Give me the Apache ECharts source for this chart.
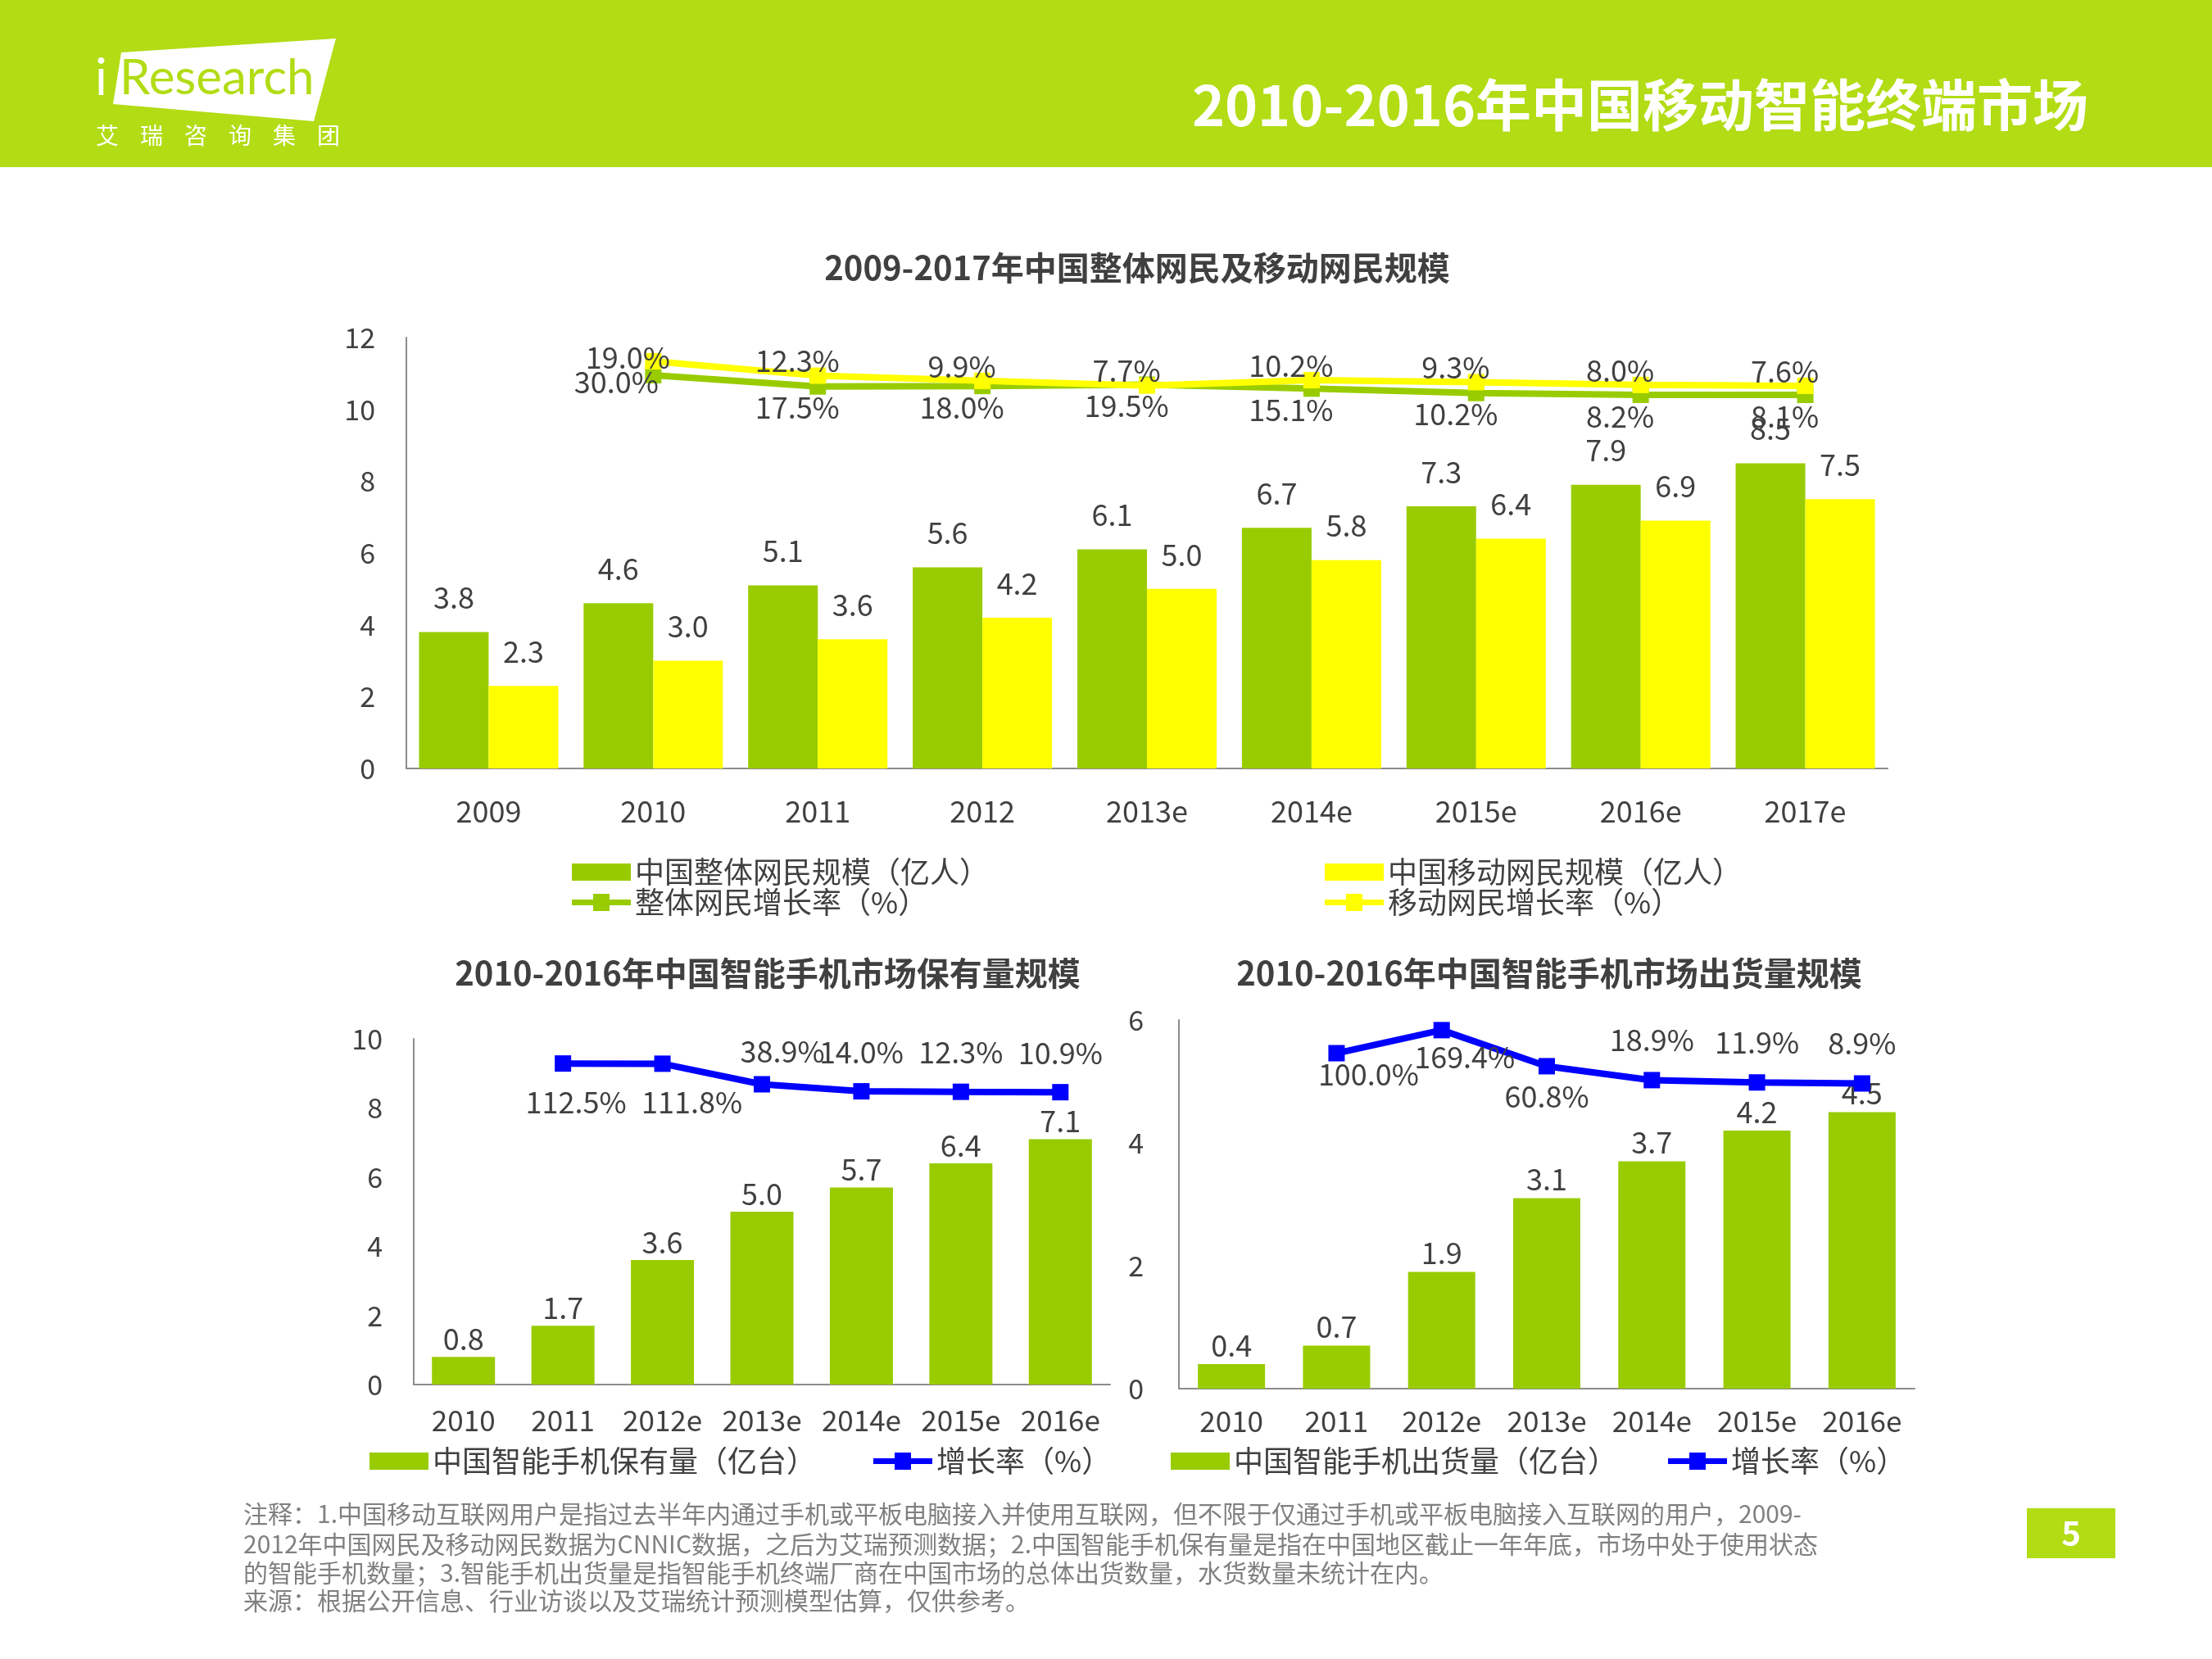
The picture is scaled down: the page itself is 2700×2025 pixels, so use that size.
<!DOCTYPE html>
<html>
<head>
<meta charset="utf-8">
<script src="https://cdn.jsdelivr.net/npm/echarts@6/dist/echarts.min.js"></script>
<style>
html,body{margin:0;padding:0;background:#fff;}
#chart{width:2700px;height:2025px;}
</style>
</head>
<body>
<div id="chart"></div>
<script>
// ---------- data ----------
const years = ['2009','2010','2011','2012','2013e','2014e','2015e','2016e','2017e'];
const totalNetizens = [3.8,4.6,5.1,5.6,6.1,6.7,7.3,7.9,8.5];
const mobileNetizens = [2.3,3.0,3.6,4.2,5.0,5.8,6.4,6.9,7.5];
const totalGrowth = [null,30.0,17.5,18.0,19.5,15.1,10.2,8.2,8.1];
const mobileGrowth = [null,19.0,12.3,9.9,7.7,10.2,9.3,8.0,7.6];
const topTicks = [0,2,4,6,8,10,12];

const phoneYears = ['2010','2011','2012e','2013e','2014e','2015e','2016e'];
const phoneStock = [0.8,1.7,3.6,5.0,5.7,6.4,7.1];
const stockGrowth = [null,112.5,111.8,38.9,14.0,12.3,10.9];
const stockTicks = [0,2,4,6,8,10];
const phoneShipments = [0.4,0.7,1.9,3.1,3.7,4.2,4.5];
const shipmentGrowth = [null,100.0,169.4,60.8,18.9,11.9,8.9];
const shipTicks = [0,2,4,6];

const notes = [
  '注释：1.中国移动互联网用户是指过去半年内通过手机或平板电脑接入并使用互联网，但不限于仅通过手机或平板电脑接入互联网的用户，2009-',
  '2012年中国网民及移动网民数据为CNNIC数据，之后为艾瑞预测数据；2.中国智能手机保有量是指在中国地区截止一年年底，市场中处于使用状态',
  '的智能手机数量；3.智能手机出货量是指智能手机终端厂商在中国市场的总体出货数量，水货数量未统计在内。',
  '来源：根据公开信息、行业访谈以及艾瑞统计预测模型估算，仅供参考。'
];

// ---------- style ----------
const FONT = "'Noto Sans CJK SC','Noto Sans',sans-serif";
const GREEN = '#99cc00', YELLOW = '#ffff00', BLUE = '#0000ff', HEAD = '#b2dc14';
const TXT = '#404040', AXIS = '#8c8c8c';
const LINE_ICON = 'path://M0,7H72V14H0Z M26,0H46V21H26Z';

const fmt1 = v => (v == null ? '' : Number(v).toFixed(1));
function lineData(values, labelFn) {
  return values.map((v, i) => v == null ? null : ({ value: v, label: labelFn(i) }));
}
function yMain(grid, ticks, margin) {
  return {
    type: 'value', gridIndex: grid, min: ticks[0], max: ticks[ticks.length - 1],
    interval: ticks[1] - ticks[0],
    splitLine: { show: false }, axisTick: { show: false },
    axisLine: { show: true, lineStyle: { color: AXIS, width: 2 } },
    axisLabel: { color: TXT, fontSize: 34, margin: margin, fontFamily: FONT }
  };
}
function yHidden(grid, min, max) {
  return { type: 'value', gridIndex: grid, min: min, max: max, show: false, splitLine: { show: false } };
}
function xCat(grid, data, fs, margin) {
  return {
    type: 'category', gridIndex: grid, data: data,
    axisTick: { show: false },
    axisLine: { lineStyle: { color: AXIS, width: 2 } },
    axisLabel: { color: TXT, fontSize: fs, margin: margin, interval: 0, fontFamily: FONT }
  };
}
const barLabel = dist => ({ show: true, position: 'top', distance: dist, color: TXT, fontSize: 36, fontFamily: FONT, formatter: p => fmt1(p.value) });
const lineLabelBase = { show: true, color: TXT, fontSize: 36, fontFamily: FONT, formatter: p => fmt1(p.value) + '%' };

const graphic = [
  { type: 'rect', shape: { x: 0, y: 0, width: 2700, height: 204 }, style: { fill: HEAD } },
  { type: 'polygon', shape: { points: [[148, 64], [410, 47], [383, 148], [138, 127]] }, style: { fill: '#ffffff' } },
  { type: 'text', x: 116, y: 96, style: { text: 'i', fill: '#ffffff', font: "62px 'Lato','Noto Sans',sans-serif", textVerticalAlign: 'middle' } },
  { type: 'text', x: 146, y: 96, style: { text: 'Research', fill: HEAD, font: "60px 'Lato','Noto Sans',sans-serif", textVerticalAlign: 'middle' } },
  { type: 'text', x: 2549, y: 128, style: { text: '2010-2016年中国移动智能终端市场', fill: '#ffffff', font: "bold 68px " + FONT, textAlign: 'right', textVerticalAlign: 'middle' } },
  { type: 'text', x: 1388, y: 327, style: { text: '2009-2017年中国整体网民及移动网民规模', fill: TXT, font: "bold 40px " + FONT, textAlign: 'center', textVerticalAlign: 'middle' } },
  { type: 'text', x: 937, y: 1188, style: { text: '2010-2016年中国智能手机市场保有量规模', fill: TXT, font: "bold 40px " + FONT, textAlign: 'center', textVerticalAlign: 'middle' } },
  { type: 'text', x: 1891, y: 1188, style: { text: '2010-2016年中国智能手机市场出货量规模', fill: TXT, font: "bold 40px " + FONT, textAlign: 'center', textVerticalAlign: 'middle' } },
  { type: 'rect', shape: { x: 2474, y: 1841, width: 108, height: 61 }, style: { fill: HEAD } },
  { type: 'text', x: 2528, y: 1871, style: { text: '5', fill: '#ffffff', font: "bold 40px " + FONT, textAlign: 'center', textVerticalAlign: 'middle' } }
];
['艾','瑞','咨','询','集','团'].forEach((c, i) => {
  graphic.push({ type: 'text', x: 117 + i * 54, y: 165, style: { text: c, fill: '#ffffff', font: "28px " + FONT, textVerticalAlign: 'middle' } });
});
const noteY = [1848, 1885, 1920, 1954];
notes.forEach((t, i) => {
  graphic.push({ type: 'text', x: 297, y: noteY[i], style: { text: t, fill: '#808080', font: "30px " + FONT, textVerticalAlign: 'middle' } });
});

const legendText = { color: TXT, fontSize: 36, fontFamily: FONT, lineHeight: 37 };
const legendBase = { itemWidth: 72, itemHeight: 21, textStyle: legendText, symbolKeepAspect: false };

const option = {
  animation: false,
  backgroundColor: '#ffffff',
  textStyle: { fontFamily: FONT },
  graphic: graphic,
  grid: [
    { left: 496, width: 1808, top: 412, height: 526 },
    { left: 505, width: 850, top: 1268, height: 422 },
    { left: 1439, width: 898, top: 1245, height: 450 }
  ],
  xAxis: [
    xCat(0, years, 36, 34),
    xCat(1, phoneYears, 35, 26),
    xCat(2, phoneYears, 35, 22)
  ],
  yAxis: [
    yMain(0, topTicks, 38),
    yHidden(0, -408, 72),
    yHidden(0, -170, 30),
    yMain(1, stockTicks, 38),
    yHidden(1, -1025, 200),
    yMain(2, shipTicks, 43),
    yHidden(2, -910, 200)
  ],
  legend: [
    Object.assign({ orient: 'vertical', left: 693, top: 1041, itemGap: 0,
      data: [{ name: '中国整体网民规模（亿人）', icon: 'rect' }, { name: '整体网民增长率（%）', icon: LINE_ICON }] }, legendBase),
    Object.assign({ orient: 'vertical', left: 1612, top: 1041, itemGap: 0,
      data: [{ name: '中国移动网民规模（亿人）', icon: 'rect' }, { name: '移动网民增长率（%）', icon: LINE_ICON }] }, legendBase),
    Object.assign({ orient: 'horizontal', left: 446, top: 1760, itemGap: 70,
      data: [{ name: '中国智能手机保有量（亿台）', icon: 'rect' }, { name: '增长率（%）', icon: LINE_ICON }] }, legendBase),
    Object.assign({ orient: 'horizontal', left: 1424, top: 1760, itemGap: 62,
      data: [{ name: '中国智能手机出货量（亿台）', icon: 'rect' }, { name: '增长率（%）', icon: LINE_ICON }] }, legendBase)
  ],
  series: [
    { name: '中国整体网民规模（亿人）', type: 'bar', xAxisIndex: 0, yAxisIndex: 0, data: totalNetizens,
      barWidth: 85, barGap: '0%', itemStyle: { color: GREEN }, label: barLabel(24) },
    { name: '中国移动网民规模（亿人）', type: 'bar', xAxisIndex: 0, yAxisIndex: 0, data: mobileNetizens,
      barWidth: 85, barGap: '0%', itemStyle: { color: YELLOW }, label: barLabel(24) },
    { name: '整体网民增长率（%）', type: 'line', xAxisIndex: 0, yAxisIndex: 1, z: 5,
      symbol: 'rect', symbolSize: 20, showAllSymbol: true,
      lineStyle: { color: GREEN, width: 8 }, itemStyle: { color: GREEN },
      label: lineLabelBase,
      data: lineData(totalGrowth, i => i === 1 ? { position: 'inside', offset: [-45, 8] } : { position: 'bottom', distance: -2, offset: [-25, 0] }) },
    { name: '移动网民增长率（%）', type: 'line', xAxisIndex: 0, yAxisIndex: 2, z: 6,
      symbol: 'rect', symbolSize: 20, showAllSymbol: true,
      lineStyle: { color: YELLOW, width: 8 }, itemStyle: { color: YELLOW },
      label: lineLabelBase,
      data: lineData(mobileGrowth, i => i === 1 ? { position: 'inside', offset: [-31, -5] } : { position: 'top', distance: -10, offset: [-25, 0] }) },

    { name: '中国智能手机保有量（亿台）', type: 'bar', xAxisIndex: 1, yAxisIndex: 3, data: phoneStock,
      barWidth: 77, itemStyle: { color: GREEN }, label: barLabel(4) },
    { name: '增长率（%）', type: 'line', xAxisIndex: 1, yAxisIndex: 4, z: 5,
      symbol: 'rect', symbolSize: 20, showAllSymbol: true,
      lineStyle: { color: BLUE, width: 8 }, itemStyle: { color: BLUE },
      label: lineLabelBase,
      data: lineData(stockGrowth, i => i === 1 ? { position: 'bottom', distance: 19, offset: [16, 0] }
        : i === 2 ? { position: 'bottom', distance: 19, offset: [36, 0] }
        : i === 3 ? { position: 'top', distance: 12, offset: [25, 0] }
        : { position: 'top', distance: 20 }) },

    { name: '中国智能手机出货量（亿台）', type: 'bar', xAxisIndex: 2, yAxisIndex: 5, data: phoneShipments,
      barWidth: 82, itemStyle: { color: GREEN }, label: barLabel(5) },
    { name: '增长率（%）', type: 'line', xAxisIndex: 2, yAxisIndex: 6, z: 5,
      symbol: 'rect', symbolSize: 20, showAllSymbol: true,
      lineStyle: { color: BLUE, width: 8 }, itemStyle: { color: BLUE },
      label: lineLabelBase,
      data: lineData(shipmentGrowth, i => i === 1 ? { position: 'bottom', distance: -2, offset: [39, 0] }
        : i === 2 ? { position: 'bottom', distance: 5, offset: [28, 0] }
        : i === 3 ? { position: 'bottom', distance: 9 }
        : { position: 'top', distance: 21 }) }
  ]
};

const chart = echarts.init(document.getElementById('chart'), null, { renderer: 'canvas' });
chart.setOption(option);
</script>
</body>
</html>
